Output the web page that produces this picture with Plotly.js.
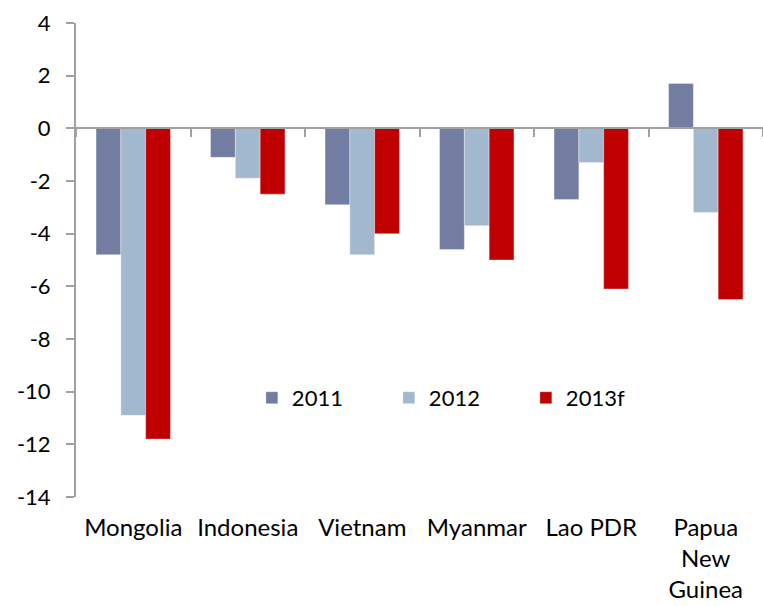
<!DOCTYPE html>
<html>
<head>
<meta charset="utf-8">
<script src="https://cdn.plot.ly/plotly-3.0.1.min.js"></script>
<style>html,body{margin:0;padding:0;background:#fff;}#chart{width:763px;height:606px;}</style>
</head>
<body>
<div id="chart"></div>
<script>
const categories = ["Mongolia", "Indonesia", "Vietnam", "Myanmar", "Lao PDR", "Papua<br>New<br>Guinea"];
const seriesNames = ["2011", "2012", "2013f"];
const values2011 = [-4.8, -1.1, -2.9, -4.6, -2.7, 1.7];
const values2012 = [-10.9, -1.9, -4.8, -3.7, -1.3, -3.2];
const values2013f = [-11.8, -2.5, -4.0, -5.0, -6.1, -6.5];
const yTicks = [4, 2, 0, -2, -4, -6, -8, -10, -12, -14];
const colors = ["#737CA1", "#A2B8CF", "#C00000"];

const allValues = [values2011, values2012, values2013f];
const traces = allValues.map((v, i) => ({
  type: "bar",
  name: seriesNames[i],
  x: categories,
  y: v,
  xaxis: "x",
  yaxis: "y",
  marker: {color: colors[i], line: {color: "rgba(255,255,255,0.35)", width: 1}},
  hoverinfo: "skip"
}));
// helper trace so the zero-line category axis (with boundary ticks) is drawn
traces.push({
  type: "scatter", mode: "markers", x: categories, y: categories.map(() => 0),
  xaxis: "x2", yaxis: "y", marker: {opacity: 0}, showlegend: false, hoverinfo: "skip"
});

const font = {family: "Lato, 'Open Sans', sans-serif", size: 22, color: "#000"};
const xFont = {family: "Lato, 'Open Sans', sans-serif", size: 24, color: "#000"};
const layout = {
  width: 763, height: 606,
  margin: {l: 76, r: 0, t: 23, b: 109, autoexpand: false},
  paper_bgcolor: "#fff", plot_bgcolor: "#fff",
  font: font,
  barmode: "group",
  bargap: 0.35, bargroupgap: 0,
  showlegend: true,
  legend: {
    orientation: "h", x: 0.256, xanchor: "left", y: 0.209, yanchor: "middle",
    entrywidth: 92, entrywidthmode: "pixels", font: font, bgcolor: "rgba(0,0,0,0)"
  },
  xaxis: {
    type: "category", categoryorder: "array", categoryarray: categories,
    showline: false, ticks: "", showgrid: false, zeroline: false,
    tickfont: xFont, ticklabelstandoff: 14, domain: [0, 1]
  },
  xaxis2: {
    type: "category", categoryorder: "array", categoryarray: categories,
    overlaying: "x", matches: "x", anchor: "free", position: 14 / 18, side: "bottom",
    showline: true, linecolor: "#A0A0A0", linewidth: 2,
    ticks: "outside", tickson: "boundaries", ticklen: 8, tickwidth: 2, tickcolor: "#A0A0A0",
    showticklabels: false, showgrid: false, zeroline: false
  },
  yaxis: {
    range: [-14, 4], tickvals: yTicks, ticktext: yTicks.map(String),
    showline: true, linecolor: "#A0A0A0", linewidth: 2,
    ticks: "outside", ticklen: 8, tickwidth: 2, tickcolor: "#A0A0A0",
    ticklabelstandoff: 11,
    showgrid: false, zeroline: false, tickfont: font
  }
};

Plotly.newPlot("chart", traces, layout, {displayModeBar: false, staticPlot: true});
</script>
</body>
</html>
